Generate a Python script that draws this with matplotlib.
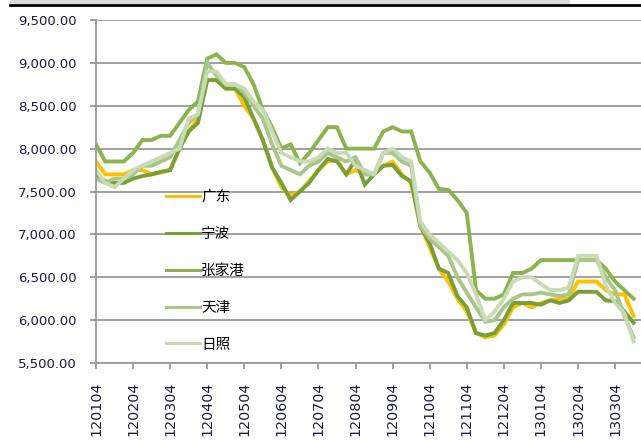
import matplotlib.pyplot as plt
from matplotlib.patches import Rectangle
from matplotlib.lines import Line2D
from matplotlib.ticker import FuncFormatter
import numpy as np

plt.rcParams['font.family'] = ['DejaVu Sans', 'Noto Sans CJK SC']

# tick labels (one every 4 points, roughly weekly data)
tick_labels = ['120104', '120204', '120304', '120404', '120504', '120604', '120704',
               '120804', '120904', '121004', '121104', '121204', '130104', '130204',
               '130304']

# prices
guangdong = [7850, 7700, 7700, 7700, 7750, 7750, 7700, 7720, 7750, 8000,
             8200, 8350, 8800, 8800, 8700, 8700, 8500, 8350, 8100, 7780,
             7550, 7450, 7500, 7620, 7750, 7850, 7870, 7700, 7750, 7700,
             7700, 7800, 7850, 7700, 7600, 7100, 6850, 6600, 6450, 6250,
             6100, 5850, 5800, 5820, 5950, 6150, 6200, 6150, 6200, 6230,
             6250, 6250, 6450, 6450, 6450, 6350, 6300, 6300, 6050]
ningbo = [7700, 7620, 7600, 7600, 7650, 7680, 7700, 7730, 7750, 8000,
          8200, 8300, 8800, 8800, 8700, 8700, 8600, 8350, 8100, 7780,
          7600, 7400, 7500, 7600, 7750, 7880, 7850, 7700, 7870, 7580,
          7700, 7800, 7810, 7680, 7620, 7090, 6900, 6600, 6550, 6280,
          6150, 5850, 5820, 5850, 6000, 6200, 6200, 6200, 6180, 6230,
          6200, 6230, 6330, 6330, 6330, 6230, 6220, 6100, 5970]
zhangjiagang = [8050, 7850, 7850, 7850, 7950, 8100, 8100, 8150, 8150, 8300,
                8450, 8550, 9050, 9100, 9000, 9000, 8950, 8750, 8450, 8250,
                8000, 8050, 7830, 7950, 8100, 8250, 8250, 8000, 8000, 8000,
                8000, 8200, 8250, 8200, 8200, 7850, 7720, 7530, 7520, 7400,
                7250, 6350, 6250, 6250, 6300, 6550, 6550, 6600, 6700, 6700,
                6700, 6700, 6700, 6700, 6700, 6600, 6450, 6350, 6250]
tianjin = [7650, 7600, 7650, 7650, 7700, 7800, 7800, 7850, 7900, 8100,
           8300, 8400, 9000, 8850, 8750, 8750, 8650, 8500, 8350, 8050,
           7800, 7750, 7700, 7800, 7850, 7950, 7900, 7850, 7900, 7700,
           7700, 7950, 7950, 7850, 7800, 7100, 6950, 6850, 6750, 6500,
           6320, 6150, 5980, 6000, 6150, 6250, 6300, 6300, 6320, 6300,
           6280, 6300, 6700, 6700, 6700, 6500, 6350, 6050, 5800]
rizhao = [7750, 7600, 7550, 7650, 7750, 7800, 7850, 7900, 7950, 8000,
          8350, 8400, 8900, 8900, 8750, 8750, 8700, 8550, 8450, 8200,
          7950, 7900, 7850, 7850, 7900, 8000, 7950, 7950, 7800, 7750,
          7700, 7950, 8000, 7900, 7850, 7150, 7000, 6900, 6800, 6700,
          6550, 6300, 6000, 6100, 6250, 6450, 6500, 6500, 6420, 6350,
          6350, 6380, 6750, 6750, 6750, 6400, 6200, 6080, 5750]

series = [('广东', guangdong, '#FFC000'),
          ('宁波', ningbo, '#77A03B'),
          ('张家港', zhangjiagang, '#8CB44E'),
          ('天津', tianjin, '#A8C68A'),
          ('日照', rizhao, '#C9DBB4')]

fig = plt.figure(figsize=(6.41, 4.41), dpi=100)
ax = fig.add_axes([96 / 641, 1 - 363 / 441, 1 - 96 / 641, (363 - 20) / 441])

x = np.arange(len(guangdong))
for name, vals, col in series:
    ax.plot(x, vals, color=col, lw=2.8, label=name, solid_joinstyle='miter')

ax.set_ylim(5500, 9500)
ax.set_yticks(np.arange(5500, 9501, 500))
ax.yaxis.set_major_formatter(FuncFormatter(lambda v, p: f'{v:,.2f}'))
ax.set_xlim(0, 58.8)
ax.set_xticks(np.arange(0, 4 * len(tick_labels), 4))
ax.set_xticklabels(tick_labels, rotation=90)

ax.grid(axis='y', color='#999999', lw=1.3)
ax.set_axisbelow(True)
for s in ['top', 'right']:
    ax.spines[s].set_visible(False)
for s in ['left', 'bottom']:
    ax.spines[s].set_color('#999999')
    ax.spines[s].set_linewidth(1.3)
ax.tick_params(axis='both', color='#999999', width=1.3, length=4)
ax.tick_params(axis='y', labelsize=9.5, labelcolor='#1a1a40', pad=10)
ax.tick_params(axis='x', labelsize=10.3, labelcolor='#1a1a40', pad=9.5)

leg = ax.legend(loc='upper left', bbox_to_anchor=(166 / 641, 1 - 189 / 441),
                bbox_transform=fig.transFigure, frameon=False, fontsize=10.5,
                handlelength=2.3, handletextpad=0.1, labelspacing=1.5,
                borderpad=0, borderaxespad=0)
for h in leg.get_lines():
    h.set_linewidth(2.2)

# top strip of the screenshot
fig.add_artist(Rectangle((10 / 641, 1 - 4 / 441), 560 / 641, 4 / 441,
                         transform=fig.transFigure, color='#dcdcdc', lw=0))
fig.add_artist(Line2D([10 / 641, 1], [1 - 5 / 441, 1 - 5 / 441],
                      transform=fig.transFigure, color='black', lw=2))

fig.savefig('out.png', dpi=100)
